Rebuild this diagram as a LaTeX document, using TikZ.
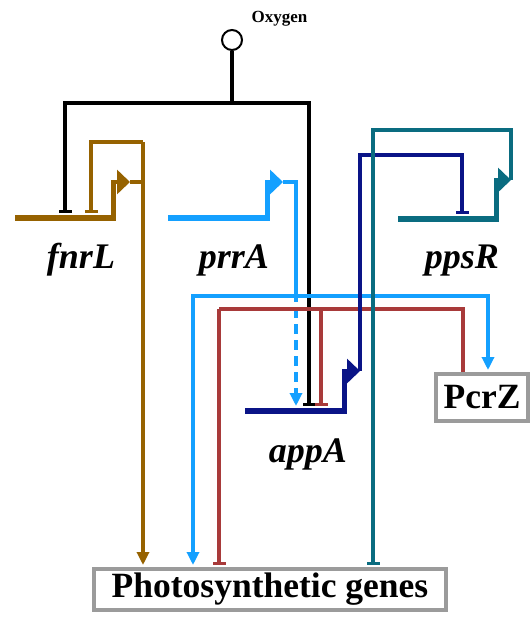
\documentclass[tikz,border=0pt]{standalone}
\usepackage{fontspec}
\setmainfont{Liberation Serif}
\usepackage{xcolor}
\usetikzlibrary{arrows.meta, positioning, calc}

\definecolor{fnrLcol}{RGB}{150,98,0}
\definecolor{prrAcol}{RGB}{20,160,255}
\definecolor{appAcol}{RGB}{10,20,135}
\definecolor{ppsRcol}{RGB}{10,108,128}
\definecolor{pcrZcol}{RGB}{168,58,58}
\definecolor{boxcol}{RGB}{155,155,155}

\begin{document}
\begin{tikzpicture}[
    x=1pt, y=-1pt,
    line/.style={line width=3.2pt, color=#1},
    arrow/.style={line/.expanded=#1, -{Triangle[length=13pt, width=12pt]}, shorten >=2pt},
    inhib/.style={line/.expanded=#1, -{Bar[width=13pt]}, shorten >=2pt},
    genebar/.style={rectangle, fill=#1, minimum height=6pt, inner sep=0pt, outer sep=0pt},
    prom/.style={line width=4.5pt, color=#1, -{Triangle[length=13pt, width=24pt]}},
    genelabel/.style={anchor=base, font=\fontsize{36}{38}\selectfont\bfseries\itshape},
    box/.style={rectangle, draw=boxcol, line width=4pt, fill=white, inner sep=0pt, font=\fontsize{35.5}{38}\selectfont\bfseries},
]
\useasboundingbox (0,0) rectangle (531,619);

% Boxes
\node[box, minimum width=352pt, minimum height=41pt] (genes) at (270,589.5) {Photosynthetic genes};
\node[box, minimum width=92pt, minimum height=47pt] (pcrZ) at (482,397.5) {PcrZ};

% Genes
\node[genebar=fnrLcol, minimum width=101pt] (fnrLbar) at (65.5,218) {};
\node[genebar=prrAcol, minimum width=102pt] (prrAbar) at (219,218) {};
\node[genebar=ppsRcol, minimum width=101pt] (ppsRbar) at (448.5,219) {};
\node[genebar=appAcol, minimum width=102pt] (appAbar) at (296,411) {};
\node[genelabel] (fnrL) at (81,268) {fnrL};
\node[genelabel] (prrA) at (234,268) {prrA};
\node[genelabel] (ppsR) at (462,268) {ppsR};
\node[genelabel] (appA) at (308,462) {appA};

% Oxygen
\node[circle, draw, line width=2pt, minimum size=20pt, inner sep=0pt] (oxy) at (232,40) {};
\node[anchor=base west, font=\fontsize{17}{18}\selectfont\bfseries] (oxylabel) at (248,22) {Oxygen};

% Turning points
\coordinate (oxyhub) at (232,103);
\coordinate (oxyL) at (65,103);
\coordinate (oxyR) at (309,103);
\coordinate (fnrLtip) at (130,182);
\coordinate (fnrLout) at (143,142);
\coordinate (fnrLself) at (91,142);
\coordinate (prrAtip) at (283,182);
\coordinate (prrAjoin) at (296,296);
\coordinate (prrAleft) at (193,296);
\coordinate (prrAright) at (488,296);
\coordinate (pcrZjoin) at (463,309);
\coordinate (pcrZleft) at (219,309);
\coordinate (pcrZapp) at (321,309);
\coordinate (appAtip) at (360,371);
\coordinate (appAturn) at (360,155);
\coordinate (appAright) at (462,155);
\coordinate (ppsRtip) at (511,180);
\coordinate (ppsRturn) at (511,130);
\coordinate (ppsRleft) at (373,130);

% Oxygen
\draw[line=black] (oxy.south) -- (oxyhub);
\draw[inhib=black] (oxyhub) -- (oxyL) -- (oxyL |- fnrLbar.north);
\draw[inhib=black] (oxyhub) -- (oxyR) -- (oxyR |- appAbar.north);

% Promoters
\draw[prom=fnrLcol] ([xshift=-2.5pt]fnrLbar.east) |- (fnrLtip);
\draw[prom=prrAcol] ([xshift=-2.5pt]prrAbar.east) |- (prrAtip);
\draw[prom=appAcol] ([xshift=-2.5pt]appAbar.east) |- (appAtip);
\draw[prom=ppsRcol] ([xshift=-2.5pt]ppsRbar.east) |- (ppsRtip);

% FnrL
\draw[line=fnrLcol] (fnrLtip) -- (fnrLtip -| fnrLout);
\draw[inhib=fnrLcol] (fnrLout) -- (fnrLself) -- (fnrLself |- fnrLbar.north);
\draw[arrow=fnrLcol] (fnrLout) -- (fnrLout |- genes.north);

% PrrA
\draw[line=prrAcol] (prrAtip) -| (prrAjoin);
\draw[arrow=prrAcol, dashed, dash pattern=on 10pt off 6pt, dash phase=4pt] (prrAjoin) -- (prrAjoin |- appAbar.north);
\draw[arrow=prrAcol] (prrAjoin) -- (prrAleft) -- (prrAleft |- genes.north);
\draw[arrow=prrAcol] (prrAjoin) -- (prrAright) -- (prrAright |- pcrZ.north);

% PcrZ
\draw[line=pcrZcol] (pcrZjoin |- pcrZ.north) -- (pcrZjoin) -- (pcrZleft);
\draw[inhib=pcrZcol] (pcrZleft) -- (pcrZleft |- genes.north);
\draw[inhib=pcrZcol] (pcrZapp) -- (pcrZapp |- appAbar.north);

% AppA
\draw[inhib=appAcol] (appAtip) -- (appAturn) -- (appAright) -- (appAright |- ppsRbar.north);

% PpsR
\draw[inhib=ppsRcol] (ppsRtip) -- (ppsRturn) -- (ppsRleft) -- (ppsRleft |- genes.north);

\end{tikzpicture}
\end{document}
